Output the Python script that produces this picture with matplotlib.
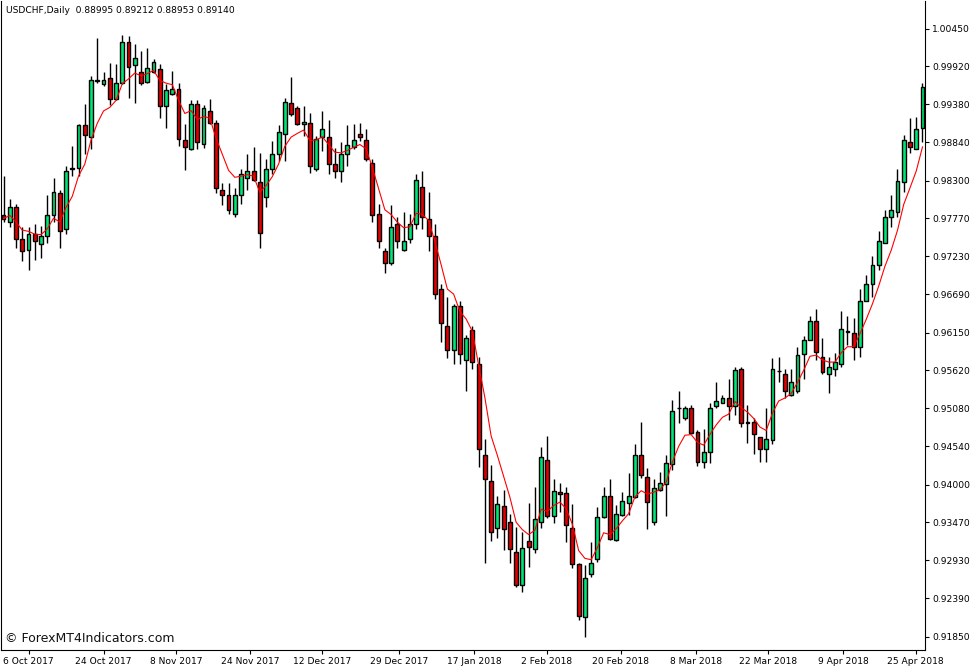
import matplotlib
matplotlib.use("Agg")
import matplotlib.pyplot as plt
import numpy as np
import pandas as pd

opens = [0.9782,0.9771,0.9793,0.9747,0.9732,0.9754,0.9740,0.9752,0.9782,0.9813,
 0.9761,0.9848,0.9848,0.9908,0.9891,0.9972,0.9967,0.9975,0.9946,0.9968,
 1.0026,0.9994,0.9984,0.9970,0.9984,0.9988,0.9936,0.9953,0.9960,0.9888,
 0.9875,0.9939,0.9882,0.9929,0.9912,0.9816,0.9809,0.9783,0.9810,0.9834,
 0.9844,0.9828,0.9807,0.9847,0.9867,0.9896,0.9940,0.9933,0.9910,0.9912,
 0.9847,0.9891,0.9892,0.9854,0.9843,0.9867,0.9878,0.9896,0.9888,0.9855,
 0.9783,0.9731,0.9714,0.9768,0.9732,0.9748,0.9769,0.9821,0.9775,0.9752,
 0.9677,0.9625,0.9590,0.9653,0.9576,0.9618,0.9571,0.9442,0.9405,0.9338,
 0.9370,0.9347,0.9305,0.9258,0.9320,0.9309,0.9347,0.9435,0.9355,0.9389,
 0.9388,0.9339,0.9288,0.9213,0.9274,0.9295,0.9354,0.9384,0.9322,0.9357,
 0.9374,0.9382,0.9442,0.9411,0.9347,0.9392,0.9401,0.9429,0.9508,0.9494,
 0.9509,0.9475,0.9432,0.9446,0.9511,0.9516,0.9522,0.9511,0.9563,0.9488,
 0.9488,0.9467,0.9451,0.9463,0.9560,0.9557,0.9526,0.9533,0.9584,0.9605,
 0.9631,0.9580,0.9556,0.9564,0.9571,0.9617,0.9615,0.9594,0.9659,0.9683,
 0.9710,0.9742,0.9778,0.9785,0.9828,0.9885,0.9875,0.9905]
highs = [0.9836,0.9804,0.9797,0.9764,0.9765,0.9769,0.9766,0.9809,0.9834,0.9816,
 0.9851,0.9879,0.9910,0.9939,0.9978,1.0032,0.9984,0.9996,0.9995,1.0036,
 1.0035,1.0023,1.0013,1.0018,1.0002,0.9995,0.9967,0.9985,0.9968,0.9910,
 0.9944,0.9944,0.9937,0.9946,0.9915,0.9826,0.9826,0.9820,0.9847,0.9868,
 0.9878,0.9869,0.9861,0.9886,0.9908,0.9947,0.9977,0.9936,0.9936,0.9926,
 0.9893,0.9929,0.9916,0.9876,0.9884,0.9909,0.9910,0.9912,0.9903,0.9860,
 0.9797,0.9734,0.9796,0.9779,0.9785,0.9783,0.9840,0.9844,0.9814,0.9769,
 0.9684,0.9665,0.9656,0.9660,0.9611,0.9625,0.9580,0.9464,0.9427,0.9384,
 0.9392,0.9358,0.9340,0.9333,0.9374,0.9396,0.9453,0.9468,0.9408,0.9402,
 0.9396,0.9372,0.9289,0.9286,0.9319,0.9368,0.9396,0.9408,0.9371,0.9389,
 0.9416,0.9457,0.9488,0.9423,0.9408,0.9418,0.9442,0.9519,0.9532,0.9511,
 0.9512,0.9477,0.9478,0.9515,0.9545,0.9526,0.9550,0.9567,0.9566,0.9512,
 0.9494,0.9467,0.9508,0.9579,0.9581,0.9563,0.9563,0.9595,0.9610,0.9638,
 0.9648,0.9608,0.9580,0.9586,0.9646,0.9638,0.9636,0.9677,0.9697,0.9723,
 0.9759,0.9788,0.9810,0.9847,0.9895,0.9919,0.9920,0.9968]
lows = [0.9771,0.9764,0.9734,0.9716,0.9704,0.9717,0.9721,0.9741,0.9771,0.9735,
 0.9755,0.9837,0.9836,0.9868,0.9875,0.9968,0.9964,0.9937,0.9944,0.9966,
 0.9947,0.9940,0.9965,0.9968,0.9982,0.9919,0.9905,0.9951,0.9879,0.9845,
 0.9873,0.9875,0.9876,0.9910,0.9812,0.9795,0.9783,0.9778,0.9797,0.9816,
 0.9830,0.9734,0.9792,0.9840,0.9858,0.9858,0.9922,0.9908,0.9893,0.9841,
 0.9844,0.9872,0.9840,0.9834,0.9828,0.9851,0.9875,0.9886,0.9858,0.9771,
 0.9734,0.9699,0.9710,0.9735,0.9731,0.9741,0.9762,0.9762,0.9731,0.9663,
 0.9601,0.9579,0.9571,0.9571,0.9533,0.9564,0.9425,0.9289,0.9320,0.9324,
 0.9307,0.9289,0.9255,0.9248,0.9283,0.9303,0.9338,0.9353,0.9346,0.9361,
 0.9319,0.9282,0.9209,0.9185,0.9269,0.9291,0.9353,0.9322,0.9320,0.9355,
 0.9357,0.9381,0.9409,0.9337,0.9343,0.9391,0.9355,0.9420,0.9487,0.9492,
 0.9471,0.9426,0.9423,0.9430,0.9509,0.9515,0.9492,0.9499,0.9481,0.9459,
 0.9443,0.9432,0.9432,0.9457,0.9545,0.9522,0.9525,0.9530,0.9550,0.9604,
 0.9576,0.9557,0.9530,0.9553,0.9566,0.9597,0.9576,0.9580,0.9659,0.9665,
 0.9704,0.9741,0.9764,0.9778,0.9814,0.9869,0.9874,0.9884]
closes = [0.9776,0.9793,0.9748,0.9731,0.9754,0.9744,0.9752,0.9782,0.9814,0.9759,
 0.9843,0.9847,0.9908,0.9895,0.9972,0.9971,0.9972,0.9946,0.9968,1.0026,
 0.9991,1.0003,0.9968,0.9989,0.9998,0.9936,0.9958,0.9960,0.9889,0.9878,
 0.9939,0.9885,0.9932,0.9912,0.9819,0.9810,0.9788,0.9810,0.9840,0.9844,
 0.9831,0.9756,0.9847,0.9867,0.9898,0.9941,0.9924,0.9910,0.9913,0.9850,
 0.9889,0.9903,0.9854,0.9843,0.9867,0.9881,0.9888,0.9891,0.9860,0.9782,
 0.9744,0.9714,0.9765,0.9744,0.9744,0.9768,0.9831,0.9779,0.9751,0.9670,
 0.9629,0.9590,0.9652,0.9584,0.9607,0.9573,0.9450,0.9408,0.9333,0.9372,
 0.9337,0.9309,0.9258,0.9310,0.9312,0.9351,0.9439,0.9355,0.9391,0.9387,
 0.9343,0.9288,0.9214,0.9268,0.9289,0.9354,0.9384,0.9323,0.9358,0.9377,
 0.9384,0.9442,0.9413,0.9375,0.9395,0.9402,0.9430,0.9504,0.9509,0.9509,
 0.9473,0.9432,0.9446,0.9509,0.9518,0.9522,0.9511,0.9562,0.9487,0.9487,
 0.9471,0.9451,0.9464,0.9563,0.9561,0.9533,0.9545,0.9583,0.9605,0.9631,
 0.9587,0.9559,0.9566,0.9573,0.9620,0.9616,0.9595,0.9660,0.9684,0.9711,
 0.9744,0.9779,0.9788,0.9830,0.9888,0.9878,0.9903,0.9963]

date_labels = ["6 Oct 2017","24 Oct 2017","8 Nov 2017","24 Nov 2017","12 Dec 2017",
 "29 Dec 2017","17 Jan 2018","2 Feb 2018","20 Feb 2018","8 Mar 2018",
 "22 Mar 2018","9 Apr 2018","25 Apr 2018"]
date_idx = [4,16,27.6,39.4,51,63.3,75.3,86.9,98.7,110.7,122.3,134.3,145.9]
price_ticks = [1.00450,0.99920,0.99380,0.98840,0.98300,0.97770,0.97230,0.96690,
 0.96150,0.95620,0.95080,0.94540,0.94000,0.93470,0.92930,0.92390,0.91850]

W, H = 977, 672
fig = plt.figure(figsize=(W/100, H/100), dpi=100)
ax = fig.add_axes([1/W, 22/H, 924/W, 649/H])

o = np.array(opens); h = np.array(highs); l = np.array(lows); c = np.array(closes)
x = np.arange(len(o))
up = c >= o
ax.vlines(x, l, h, color='black', lw=1, zorder=1)
bw = 0.62
ax.bar(x[up], (c-o)[up], bottom=o[up], width=bw, color='#00E676', edgecolor='black', lw=1, zorder=2)
ax.bar(x[~up], (c-o)[~up], bottom=o[~up], width=bw, color='#E00000', edgecolor='black', lw=1, zorder=2)

ma = pd.Series(c).ewm(span=6, adjust=False).mean()
ax.plot(x, ma, color='red', lw=0.8, zorder=3)

ax.set_xlim(-0.4, 147.4)
ax.set_ylim(0.9166, 1.0084)
ax.yaxis.tick_right()
ax.set_yticks(price_ticks)
ax.set_yticklabels([f"{v:.5f}" for v in price_ticks], fontsize=6.6)
ax.set_xticks(date_idx)
ax.set_xticklabels(date_labels, fontsize=6.6)
ax.tick_params(axis='both', length=3, width=0.8, pad=2)
ax.spines['top'].set_visible(False)
ax.text(0.005, 0.993, "USDCHF,Daily  0.88995 0.89212 0.88953 0.89140", transform=ax.transAxes,
        fontsize=6.6, va='top', ha='left')
ax.text(0.004, 0.008, "© ForexMT4Indicators.com", transform=ax.transAxes,
        fontsize=9, va='bottom', ha='left', color='#111111')
fig.savefig("out.png", dpi=100)
